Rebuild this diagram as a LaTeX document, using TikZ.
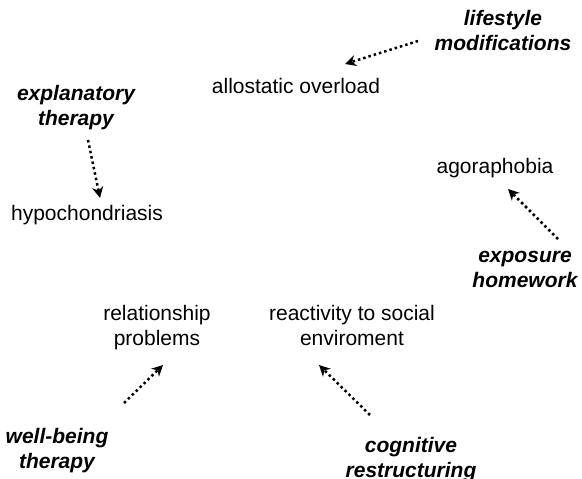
\documentclass[tikz,border=0pt]{standalone}
\usepackage{fontspec}
\setmainfont{Liberation Sans}
\usetikzlibrary{arrows.meta}
\tikzset{
  problem/.style={font=\fontsize{21}{25}\selectfont, align=center, inner sep=0pt, anchor=base},
  therapy/.style={font=\fontsize{21}{25}\selectfont\bfseries\itshape, align=center, inner sep=0pt, anchor=base},
  effect/.style={line width=2.5pt, dash pattern=on 2.5pt off 3pt,
    -{Stealth[length=11pt,width=11pt,inset=3.5pt]}}
}
\begin{document}
\begin{tikzpicture}[x=1pt,y=-1pt]
  \useasboundingbox (0,0) rectangle (582,479);

  % problems (base anchor = baseline of the last line)
  \node[problem] (ao) at (296,93) {allostatic overload};
  \node[problem] (hy) at (87,220) {hypochondriasis};
  \node[problem] (ag) at (495,173) {agoraphobia};
  \node[problem] (rp) at (157,345) {relationship\\problems};
  \node[problem] (rs) at (352,345) {reactivity to social\\enviroment};

  % interventions
  \node[therapy] (lm) at (503,50) {lifestyle\\modifications};
  \node[therapy] (et) at (76,125) {explanatory\\therapy};
  \node[therapy] (eh) at (525,287) {exposure\\homework};
  \node[therapy] (wb) at (57,468) {well-being\\therapy};
  \node[therapy] (cr) at (411,477) {cognitive\\restructuring};

  % arrow ends
  \coordinate (lm-out) at (418,41);  \coordinate (ao-in) at (345,64);
  \coordinate (et-out) at (88,140);  \coordinate (hy-in) at (100,198);
  \coordinate (eh-out) at (558,239); \coordinate (ag-in) at (508,189);
  \coordinate (wb-out) at (124,403); \coordinate (rp-in) at (163,365);
  \coordinate (cr-out) at (370,415); \coordinate (rs-in) at (319,365);

  \draw[effect] (lm-out) -- (ao-in);
  \draw[effect] (et-out) -- (hy-in);
  \draw[effect] (eh-out) -- (ag-in);
  \draw[effect] (wb-out) -- (rp-in);
  \draw[effect] (cr-out) -- (rs-in);
\end{tikzpicture}
\end{document}
